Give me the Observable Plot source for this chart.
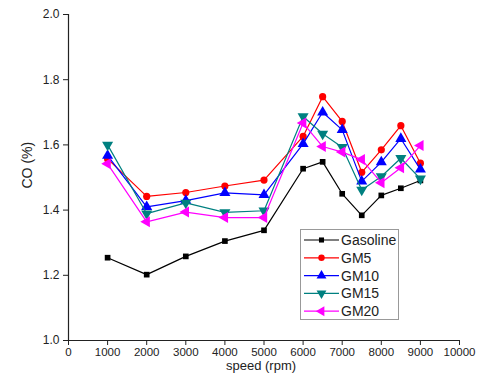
<!DOCTYPE html>
<html>
<head>
<meta charset="utf-8">
<script src="https://cdn.jsdelivr.net/npm/d3@7"></script>
<script src="https://cdn.jsdelivr.net/npm/@observablehq/plot@0.6"></script>
<style>
  body { margin: 0; background: #fff; font-family: "Liberation Sans", Arial, sans-serif; }
  #wrap { position: relative; width: 479px; height: 376px; }
  #legend { position: absolute; left: 300px; top: 229px; width: 97px; height: 89px; border: 1px solid #999; background: #fff; }
</style>
</head>
<body>
<div id="wrap"><div id="legend"></div></div>
<script>
const speeds = [1000, 2000, 3000, 4000, 5000, 6000, 6500, 7000, 7500, 8000, 8500, 9000];
const gasoline = [1.254, 1.202, 1.258, 1.305, 1.338, 1.527, 1.548, 1.450, 1.384, 1.445, 1.467, 1.491];
const gm5      = [1.557, 1.442, 1.454, 1.474, 1.492, 1.626, 1.748, 1.672, 1.516, 1.585, 1.659, 1.544];
const gm10     = [1.567, 1.410, 1.429, 1.453, 1.447, 1.603, 1.700, 1.646, 1.488, 1.547, 1.619, 1.525];
const gm15     = [1.600, 1.389, 1.422, 1.393, 1.398, 1.687, 1.634, 1.593, 1.462, 1.503, 1.559, 1.496];
const gm20     = [1.542, 1.364, 1.394, 1.377, 1.377, 1.667, 1.595, 1.578, 1.555, 1.484, 1.530, 1.598];
const seriesNames = ["Gasoline", "GM5", "GM10", "GM15", "GM20"];
const seriesValues = [gasoline, gm5, gm10, gm15, gm20];
const seriesColors = ["#000000", "#ff0000", "#0000ff", "#008080", "#ff00ff"];
const seriesSymbols = ["square", "circle", "triangle", "triangle", "triangle"];
const seriesRotate = [0, 0, 0, 180, -90];
const seriesR = [3.2, 3.6, 4.1, 4.1, 4.1];
const xTicks = [0, 1000, 2000, 3000, 4000, 5000, 6000, 7000, 8000, 9000, 10000];
const yTicks = [1.0, 1.2, 1.4, 1.6, 1.8, 2.0];

const marks = [];
seriesNames.forEach((name, i) => {
  const data = speeds.map((s, j) => ({speed: s, co: seriesValues[i][j]}));
  marks.push(Plot.line(data, {x: "speed", y: "co", stroke: seriesColors[i], strokeWidth: 1.2}));
  marks.push(Plot.dot(data, {x: "speed", y: "co", symbol: seriesSymbols[i], fill: seriesColors[i], stroke: "none", r: seriesR[i], rotate: seriesRotate[i]}));
});

const plot = Plot.plot({
  width: 479,
  height: 376,
  marginLeft: 68,
  marginRight: 20,
  marginTop: 14,
  marginBottom: 36,
  style: {fontFamily: '"Liberation Sans", Arial, sans-serif', color: "#222", background: "#fff"},
  x: {domain: [0, 10000]},
  y: {domain: [1, 2]},
  marks: [
    Plot.axisX({ticks: xTicks, tickSize: 5, tickPadding: 2, label: null, fontSize: 11.5, tickFormat: d => String(d)}),
    Plot.axisY({ticks: yTicks, tickSize: 5, tickPadding: 4, label: null, fontSize: 12, tickFormat: d3.format(".1f")}),
    Plot.ruleX([0], {stroke: "#222", strokeWidth: 1.2}),
    Plot.ruleY([1], {stroke: "#222", strokeWidth: 1.2}),
    Plot.text(["speed (rpm)"], {frameAnchor: "bottom", dy: 29.5, dx: -3, fontSize: 13, fill: "#222"}),
    Plot.text(["CO (%)"], {frameAnchor: "left", dx: -41, dy: 11, rotate: -90, fontSize: 14, fill: "#222"}),
    ...marks
  ]
});
document.getElementById("wrap").prepend(plot);

// legend
const leg = d3.select("#legend").append("svg").attr("width", 97).attr("height", 89)
  .style("font-family", '"Liberation Sans", Arial, sans-serif');
const symMap = {square: d3.symbolSquare, circle: d3.symbolCircle, triangle: d3.symbolTriangle};
seriesNames.forEach((name, i) => {
  const g = leg.append("g").attr("transform", `translate(0,${10 + i * 17.8})`);
  g.append("line").attr("x1", 3).attr("x2", 38).attr("stroke", seriesColors[i]).attr("stroke-width", 1.2);
  g.append("path").attr("d", d3.symbol(symMap[seriesSymbols[i]], Math.PI * seriesR[i] * seriesR[i] * 0.8)())
    .attr("transform", `translate(20.5,0) rotate(${seriesRotate[i]})`).attr("fill", seriesColors[i]);
  g.append("text").attr("x", 40).attr("y", 0).attr("dy", "0.36em").attr("font-size", 14).attr("fill", "#222").text(name);
});
</script>
</body>
</html>
